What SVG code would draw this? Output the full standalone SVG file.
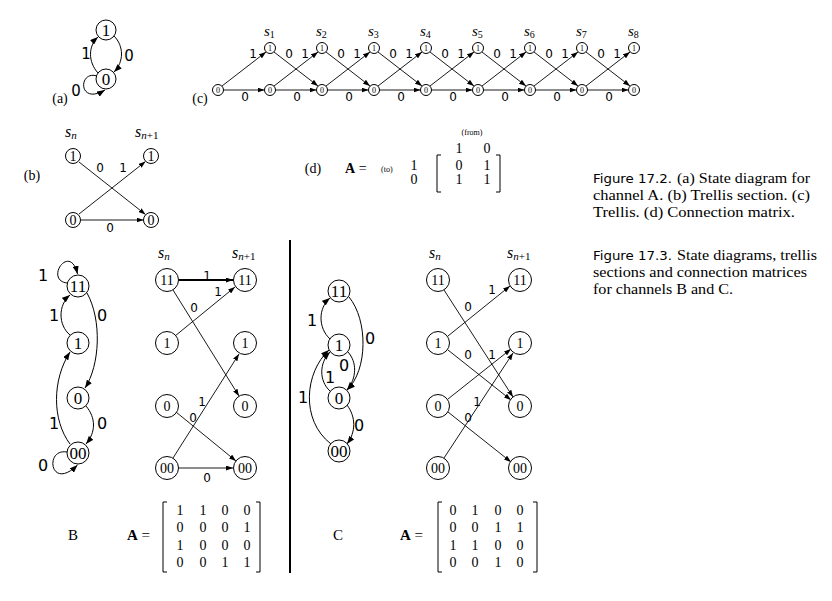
<svg xmlns="http://www.w3.org/2000/svg" width="832" height="601" viewBox="0 0 832 601">
<style>
.n{fill:#fff;stroke:#000;stroke-width:1}
.e{fill:none;stroke:#000;stroke-width:1}
.t{fill:none;stroke:#000;stroke-width:0.9}
.sr{font-family:"Liberation Serif",serif;fill:#000}
.ss{font-family:"DejaVu Sans",sans-serif;fill:#000}
.c{text-anchor:middle}
.it{font-style:italic}
</style>
<defs>
<marker id="ar" markerUnits="userSpaceOnUse" markerWidth="8" markerHeight="6" refX="8" refY="3" orient="auto"><path d="M0,0 L8,3 L0,6 z" fill="#000"/></marker>
<marker id="as" markerUnits="userSpaceOnUse" markerWidth="7" markerHeight="5" refX="7" refY="2.5" orient="auto"><path d="M0,0 L7,2.5 L0,5 z" fill="#000"/></marker>
</defs>
<rect width="832" height="601" fill="#fff"/>

<!-- (a) -->
<g id="a-connectors">
<path class="e" d="M98,73 C88,62 88,46 98,37" marker-end="url(#ar)"/>
<path class="e" d="M114,36 C124,46 124,62 114,72" marker-end="url(#ar)"/>
<path class="e" d="M97,76 C78,70 78,106 105,90" marker-end="url(#ar)"/>
<text class="ss c" x="86" y="59" font-size="15">1</text>
<text class="ss c" x="129" y="61" font-size="15">0</text>
<text class="ss c" x="76" y="96" font-size="15">0</text>
</g>
<g id="a-n1"><circle class="n" cx="106" cy="30" r="10"/><text class="sr c" x="106" y="36" font-size="17">1</text></g>
<g id="a-n0"><circle class="n" cx="106" cy="79" r="10"/><text class="sr c" x="106" y="85" font-size="17">0</text></g>
<text class="sr c" x="60" y="103" font-size="14">(a)</text>

<!-- (c) trellis -->
<text class="sr c" x="200" y="103" font-size="14">(c)</text>
<g id="c-connectors">
<line class="t" x1="223.5" y1="90" x2="264.5" y2="90" marker-end="url(#as)"/>
<line class="t" x1="275.5" y1="90" x2="316.5" y2="90" marker-end="url(#as)"/>
<line class="t" x1="327.5" y1="90" x2="368.5" y2="90" marker-end="url(#as)"/>
<line class="t" x1="379.5" y1="90" x2="420.5" y2="90" marker-end="url(#as)"/>
<line class="t" x1="431.5" y1="90" x2="472.5" y2="90" marker-end="url(#as)"/>
<line class="t" x1="483.5" y1="90" x2="524.5" y2="90" marker-end="url(#as)"/>
<line class="t" x1="535.5" y1="90" x2="576.5" y2="90" marker-end="url(#as)"/>
<line class="t" x1="587.5" y1="90" x2="628.5" y2="90" marker-end="url(#as)"/>
<line class="t" x1="222" y1="86" x2="266" y2="52" marker-end="url(#as)"/>
<line class="t" x1="274" y1="86" x2="318" y2="52" marker-end="url(#as)"/>
<line class="t" x1="326" y1="86" x2="370" y2="52" marker-end="url(#as)"/>
<line class="t" x1="378" y1="86" x2="422" y2="52" marker-end="url(#as)"/>
<line class="t" x1="430" y1="86" x2="474" y2="52" marker-end="url(#as)"/>
<line class="t" x1="482" y1="86" x2="526" y2="52" marker-end="url(#as)"/>
<line class="t" x1="534" y1="86" x2="578" y2="52" marker-end="url(#as)"/>
<line class="t" x1="586" y1="86" x2="630" y2="52" marker-end="url(#as)"/>
<line class="t" x1="274" y1="52" x2="318" y2="86" marker-end="url(#as)"/>
<line class="t" x1="326" y1="52" x2="370" y2="86" marker-end="url(#as)"/>
<line class="t" x1="378" y1="52" x2="422" y2="86" marker-end="url(#as)"/>
<line class="t" x1="430" y1="52" x2="474" y2="86" marker-end="url(#as)"/>
<line class="t" x1="482" y1="52" x2="526" y2="86" marker-end="url(#as)"/>
<line class="t" x1="534" y1="52" x2="578" y2="86" marker-end="url(#as)"/>
<line class="t" x1="586" y1="52" x2="630" y2="86" marker-end="url(#as)"/>
<g class="ss c" font-size="12">
<text x="253" y="58">1</text><text x="305" y="58">1</text><text x="357" y="58">1</text><text x="409" y="58">1</text><text x="461" y="58">1</text><text x="513" y="58">1</text><text x="565" y="58">1</text><text x="617" y="58">1</text>
<text x="289" y="58">0</text><text x="341" y="58">0</text><text x="393" y="58">0</text><text x="445" y="58">0</text><text x="497" y="58">0</text><text x="549" y="58">0</text><text x="601" y="58">0</text>
<text x="245" y="101">0</text><text x="297" y="101">0</text><text x="349" y="101">0</text><text x="401" y="101">0</text><text x="453" y="101">0</text><text x="505" y="101">0</text><text x="557" y="101">0</text><text x="609" y="101">0</text>
</g>
</g>
<g class="sr" font-size="15">
<text x="264" y="36"><tspan class="it">s</tspan><tspan font-size="10" dy="2">1</tspan></text>
<text x="316" y="36"><tspan class="it">s</tspan><tspan font-size="10" dy="2">2</tspan></text>
<text x="368" y="36"><tspan class="it">s</tspan><tspan font-size="10" dy="2">3</tspan></text>
<text x="420" y="36"><tspan class="it">s</tspan><tspan font-size="10" dy="2">4</tspan></text>
<text x="472" y="36"><tspan class="it">s</tspan><tspan font-size="10" dy="2">5</tspan></text>
<text x="524" y="36"><tspan class="it">s</tspan><tspan font-size="10" dy="2">6</tspan></text>
<text x="576" y="36"><tspan class="it">s</tspan><tspan font-size="10" dy="2">7</tspan></text>
<text x="628" y="36"><tspan class="it">s</tspan><tspan font-size="10" dy="2">8</tspan></text>
</g>
<g id="c-b0"><circle class="n" cx="218" cy="90" r="5.5"/><text class="sr c" x="218" y="93" font-size="8">0</text></g>
<g id="c-b1"><circle class="n" cx="270" cy="90" r="5.5"/><text class="sr c" x="270" y="93" font-size="8">0</text></g>
<g id="c-b2"><circle class="n" cx="322" cy="90" r="5.5"/><text class="sr c" x="322" y="93" font-size="8">0</text></g>
<g id="c-b3"><circle class="n" cx="374" cy="90" r="5.5"/><text class="sr c" x="374" y="93" font-size="8">0</text></g>
<g id="c-b4"><circle class="n" cx="426" cy="90" r="5.5"/><text class="sr c" x="426" y="93" font-size="8">0</text></g>
<g id="c-b5"><circle class="n" cx="478" cy="90" r="5.5"/><text class="sr c" x="478" y="93" font-size="8">0</text></g>
<g id="c-b6"><circle class="n" cx="530" cy="90" r="5.5"/><text class="sr c" x="530" y="93" font-size="8">0</text></g>
<g id="c-b7"><circle class="n" cx="582" cy="90" r="5.5"/><text class="sr c" x="582" y="93" font-size="8">0</text></g>
<g id="c-b8"><circle class="n" cx="634" cy="90" r="5.5"/><text class="sr c" x="634" y="93" font-size="8">0</text></g>
<g id="c-t1"><circle class="n" cx="270" cy="48" r="5.5"/><text class="sr c" x="270" y="51" font-size="8">1</text></g>
<g id="c-t2"><circle class="n" cx="322" cy="48" r="5.5"/><text class="sr c" x="322" y="51" font-size="8">1</text></g>
<g id="c-t3"><circle class="n" cx="374" cy="48" r="5.5"/><text class="sr c" x="374" y="51" font-size="8">1</text></g>
<g id="c-t4"><circle class="n" cx="426" cy="48" r="5.5"/><text class="sr c" x="426" y="51" font-size="8">1</text></g>
<g id="c-t5"><circle class="n" cx="478" cy="48" r="5.5"/><text class="sr c" x="478" y="51" font-size="8">1</text></g>
<g id="c-t6"><circle class="n" cx="530" cy="48" r="5.5"/><text class="sr c" x="530" y="51" font-size="8">1</text></g>
<g id="c-t7"><circle class="n" cx="582" cy="48" r="5.5"/><text class="sr c" x="582" y="51" font-size="8">1</text></g>
<g id="c-t8"><circle class="n" cx="634" cy="48" r="5.5"/><text class="sr c" x="634" y="51" font-size="8">1</text></g>

<!-- (b) -->
<text class="sr c" x="32" y="180" font-size="14">(b)</text>
<text class="sr" x="65" y="137" font-size="16"><tspan class="it">s</tspan><tspan class="it" font-size="11" dy="2">n</tspan></text>
<text class="sr" x="135" y="137" font-size="16"><tspan class="it">s</tspan><tspan font-size="11" dy="2"><tspan class="it">n</tspan>+1</tspan></text>
<g id="b-connectors">
<line class="t" x1="79" y1="162" x2="145.5" y2="214.5" marker-end="url(#as)"/>
<line class="t" x1="79" y1="214" x2="145.5" y2="161.5" marker-end="url(#as)"/>
<line class="t" x1="81" y1="220" x2="143.5" y2="220" marker-end="url(#as)"/>
<text class="ss c" x="100" y="172" font-size="12">0</text>
<text class="ss c" x="123" y="172" font-size="12">1</text>
<text class="ss c" x="110" y="232" font-size="12">0</text>
</g>
<g id="b-l1"><circle class="n" cx="73" cy="156" r="7.5"/><text class="sr c" x="73" y="161" font-size="14">1</text></g>
<g id="b-r1"><circle class="n" cx="151" cy="156" r="7.5"/><text class="sr c" x="151" y="161" font-size="14">1</text></g>
<g id="b-l0"><circle class="n" cx="73" cy="220" r="7.5"/><text class="sr c" x="73" y="225" font-size="14">0</text></g>
<g id="b-r0"><circle class="n" cx="151" cy="220" r="7.5"/><text class="sr c" x="151" y="225" font-size="14">0</text></g>

<!-- (d) -->
<g id="d-matrix">
<text class="sr c" x="313" y="173" font-size="14">(d)</text>
<text class="sr" x="345" y="173" font-size="14"><tspan font-weight="bold">A</tspan> =</text>
<text class="sr" x="381" y="172" font-size="8">(to)</text>
<text class="sr c" x="472" y="135" font-size="8">(from)</text>
<g class="sr c" font-size="14">
<text x="414" y="170">1</text><text x="414" y="184">0</text>
<text x="459" y="153">1</text><text x="487" y="153">0</text>
<text x="459" y="170">0</text><text x="487" y="170">1</text>
<text x="459" y="184">1</text><text x="487" y="184">1</text>
</g>
<path class="e" d="M441,155 H437 V192 H441"/>
<path class="e" d="M496,155 H500 V192 H496"/>
</g>

<!-- captions -->
<g id="captions">
<text class="ss" x="593" y="183" font-size="12" textLength="79" lengthAdjust="spacingAndGlyphs">Figure 17.2.</text>
<text class="sr" x="677" y="183" font-size="14" textLength="133" lengthAdjust="spacingAndGlyphs">(a) State diagram for</text>
<text class="sr" x="593" y="200" font-size="14" textLength="217" lengthAdjust="spacingAndGlyphs">channel A. (b) Trellis section. (c)</text>
<text class="sr" x="593" y="217" font-size="14" textLength="202" lengthAdjust="spacingAndGlyphs">Trellis. (d) Connection matrix.</text>
<text class="ss" x="593" y="260" font-size="12" textLength="79" lengthAdjust="spacingAndGlyphs">Figure 17.3.</text>
<text class="sr" x="677" y="260" font-size="14" textLength="140" lengthAdjust="spacingAndGlyphs">State diagrams, trellis</text>
<text class="sr" x="593" y="277" font-size="14" textLength="214" lengthAdjust="spacingAndGlyphs">sections and connection matrices</text>
<text class="sr" x="593" y="294" font-size="14" textLength="140" lengthAdjust="spacingAndGlyphs">for channels B and C.</text>
</g>

<!-- divider -->
<line x1="290" y1="240" x2="290" y2="573" stroke="#000" stroke-width="2"/>

<!-- B state diagram -->
<g id="B-state-connectors">
<path class="e" d="M67,283 C44,280 70,242 77.5,274" marker-end="url(#ar)"/>
<path class="e" d="M70,335 C58,325 58,305 70,295" marker-end="url(#ar)"/>
<path class="e" d="M87,293 C102,320 100,365 85,388" marker-end="url(#ar)"/>
<path class="e" d="M86,406 C96,418 96,432 86,444" marker-end="url(#ar)"/>
<path class="e" d="M70,444 C52,420 52,380 70,352" marker-end="url(#ar)"/>
<path class="e" d="M67,452 C44,448 50,492 77.5,465" marker-end="url(#ar)"/>
<g class="ss c" font-size="16">
<text x="43" y="281">1</text>
<text x="54" y="321">1</text>
<text x="102" y="321">0</text>
<text x="102" y="429">0</text>
<text x="54" y="429">1</text>
<text x="43" y="471">0</text>
</g>
</g>
<g id="B-s11"><circle class="n" cx="78" cy="286" r="11"/><text class="sr c" x="78" y="292" font-size="17">11</text></g>
<g id="B-s1"><circle class="n" cx="78" cy="343" r="11"/><text class="sr c" x="78" y="349" font-size="17">1</text></g>
<g id="B-s0"><circle class="n" cx="78" cy="398" r="11"/><text class="sr c" x="78" y="404" font-size="17">0</text></g>
<g id="B-s00"><circle class="n" cx="78" cy="453" r="11"/><text class="sr c" x="78" y="459" font-size="17">00</text></g>

<!-- B trellis -->
<text class="sr" x="158" y="258" font-size="16"><tspan class="it">s</tspan><tspan class="it" font-size="11" dy="2">n</tspan></text>
<text class="sr" x="232" y="258" font-size="16"><tspan class="it">s</tspan><tspan font-size="11" dy="2"><tspan class="it">n</tspan>+1</tspan></text>
<g id="B-trellis-connectors">
<line x1="179" y1="280" x2="233" y2="280" stroke="#000" stroke-width="2" marker-end="url(#as)"/>
<line class="t" x1="175" y1="336" x2="235" y2="287" marker-end="url(#as)"/>
<line class="t" x1="173" y1="290" x2="239" y2="396" marker-end="url(#as)"/>
<line class="t" x1="173" y1="458" x2="239" y2="354" marker-end="url(#as)"/>
<line class="t" x1="176" y1="412" x2="236" y2="461" marker-end="url(#as)"/>
<line class="t" x1="179" y1="468" x2="233" y2="468" marker-end="url(#as)"/>
<g class="ss c" font-size="12">
<text x="207" y="280">1</text>
<text x="218" y="296">1</text>
<text x="194" y="312">0</text>
<text x="202" y="406">1</text>
<text x="193" y="422">0</text>
<text x="207" y="482">0</text>
</g>
</g>
<g id="B-l11"><circle class="n" cx="167" cy="280" r="11.5"/><text class="sr c" x="167" y="285" font-size="14">11</text></g>
<g id="B-l1"><circle class="n" cx="167" cy="343" r="11.5"/><text class="sr c" x="167" y="348" font-size="14">1</text></g>
<g id="B-l0"><circle class="n" cx="167" cy="406" r="11.5"/><text class="sr c" x="167" y="411" font-size="14">0</text></g>
<g id="B-l00"><circle class="n" cx="167" cy="468" r="11.5"/><text class="sr c" x="167" y="473" font-size="14">00</text></g>
<g id="B-r11"><circle class="n" cx="245" cy="280" r="11.5"/><text class="sr c" x="245" y="285" font-size="14">11</text></g>
<g id="B-r1"><circle class="n" cx="245" cy="343" r="11.5"/><text class="sr c" x="245" y="348" font-size="14">1</text></g>
<g id="B-r0"><circle class="n" cx="245" cy="406" r="11.5"/><text class="sr c" x="245" y="411" font-size="14">0</text></g>
<g id="B-r00"><circle class="n" cx="245" cy="468" r="11.5"/><text class="sr c" x="245" y="473" font-size="14">00</text></g>

<!-- C state diagram -->
<g id="C-state-connectors">
<path class="e" d="M330,339 C318,328 318,308 330,298" marker-end="url(#ar)"/>
<path class="e" d="M349,297 C368,320 368,370 347,390" marker-end="url(#ar)"/>
<path class="e" d="M348,352 C357,362 357,378 347,390" marker-end="url(#ar)"/>
<path class="e" d="M330,391 C319,381 319,363 330,352" marker-end="url(#ar)"/>
<path class="e" d="M331,444 C300,420 305,372 329,350" marker-end="url(#ar)"/>
<path class="e" d="M347,405 C356,417 356,432 347,444" marker-end="url(#ar)"/>
<g class="ss c" font-size="16">
<text x="312" y="326">1</text>
<text x="370" y="344">0</text>
<text x="344" y="371">0</text>
<text x="330" y="383">1</text>
<text x="303" y="403">1</text>
<text x="359" y="431">0</text>
</g>
</g>
<g id="C-s11"><circle class="n" cx="339" cy="291" r="11"/><text class="sr c" x="339" y="297" font-size="17">11</text></g>
<g id="C-s1"><circle class="n" cx="339" cy="345" r="11"/><text class="sr c" x="339" y="351" font-size="17">1</text></g>
<g id="C-s0"><circle class="n" cx="339" cy="398" r="11"/><text class="sr c" x="339" y="404" font-size="17">0</text></g>
<g id="C-s00"><circle class="n" cx="339" cy="451" r="11"/><text class="sr c" x="339" y="457" font-size="17">00</text></g>

<!-- C trellis -->
<text class="sr" x="429" y="258" font-size="16"><tspan class="it">s</tspan><tspan class="it" font-size="11" dy="2">n</tspan></text>
<text class="sr" x="507" y="258" font-size="16"><tspan class="it">s</tspan><tspan font-size="11" dy="2"><tspan class="it">n</tspan>+1</tspan></text>
<g id="C-trellis-connectors">
<line class="t" x1="444" y1="290" x2="513" y2="397" marker-end="url(#as)"/>
<line class="t" x1="448" y1="336" x2="510" y2="286" marker-end="url(#as)"/>
<line class="t" x1="448" y1="350" x2="511" y2="400" marker-end="url(#as)"/>
<line class="t" x1="448" y1="399" x2="511" y2="349" marker-end="url(#as)"/>
<line class="t" x1="444" y1="458" x2="513" y2="353" marker-end="url(#as)"/>
<line class="t" x1="448" y1="412" x2="511" y2="462" marker-end="url(#as)"/>
<g class="ss c" font-size="12">
<text x="468" y="311">0</text>
<text x="492" y="294">1</text>
<text x="468" y="359">0</text>
<text x="492" y="359">1</text>
<text x="477" y="406">1</text>
<text x="468" y="422">0</text>
</g>
</g>
<g id="C-l11"><circle class="n" cx="438" cy="280" r="11.5"/><text class="sr c" x="438" y="285" font-size="14">11</text></g>
<g id="C-l1"><circle class="n" cx="438" cy="343" r="11.5"/><text class="sr c" x="438" y="348" font-size="14">1</text></g>
<g id="C-l0"><circle class="n" cx="438" cy="406" r="11.5"/><text class="sr c" x="438" y="411" font-size="14">0</text></g>
<g id="C-l00"><circle class="n" cx="438" cy="468" r="11.5"/><text class="sr c" x="438" y="473" font-size="14">00</text></g>
<g id="C-r11"><circle class="n" cx="520" cy="280" r="11.5"/><text class="sr c" x="520" y="285" font-size="14">11</text></g>
<g id="C-r1"><circle class="n" cx="520" cy="343" r="11.5"/><text class="sr c" x="520" y="348" font-size="14">1</text></g>
<g id="C-r0"><circle class="n" cx="520" cy="406" r="11.5"/><text class="sr c" x="520" y="411" font-size="14">0</text></g>
<g id="C-r00"><circle class="n" cx="520" cy="468" r="11.5"/><text class="sr c" x="520" y="473" font-size="14">00</text></g>

<!-- B matrix -->
<g id="B-matrix">
<text class="sr c" x="73" y="540" font-size="15">B</text>
<text class="sr" x="127" y="540" font-size="15"><tspan font-weight="bold">A</tspan> =</text>
<path class="e" d="M167,502 H163 V572 H167"/>
<path class="e" d="M256,502 H260 V572 H256"/>
<g class="sr c" font-size="14">
<text x="180" y="515">1</text><text x="203" y="515">1</text><text x="225" y="515">0</text><text x="247" y="515">0</text>
<text x="180" y="532">0</text><text x="203" y="532">0</text><text x="225" y="532">0</text><text x="247" y="532">1</text>
<text x="180" y="550">1</text><text x="203" y="550">0</text><text x="225" y="550">0</text><text x="247" y="550">0</text>
<text x="180" y="567">0</text><text x="203" y="567">0</text><text x="225" y="567">1</text><text x="247" y="567">1</text>
</g>
</g>

<!-- C matrix -->
<g id="C-matrix">
<text class="sr c" x="338" y="540" font-size="15">C</text>
<text class="sr" x="400" y="540" font-size="15"><tspan font-weight="bold">A</tspan> =</text>
<path class="e" d="M442,502 H438 V572 H442"/>
<path class="e" d="M533,502 H537 V572 H533"/>
<g class="sr c" font-size="14">
<text x="453" y="515">0</text><text x="475" y="515">1</text><text x="498" y="515">0</text><text x="520" y="515">0</text>
<text x="453" y="532">0</text><text x="475" y="532">0</text><text x="498" y="532">1</text><text x="520" y="532">1</text>
<text x="453" y="550">1</text><text x="475" y="550">1</text><text x="498" y="550">0</text><text x="520" y="550">0</text>
<text x="453" y="567">0</text><text x="475" y="567">0</text><text x="498" y="567">1</text><text x="520" y="567">0</text>
</g>
</g>
</svg>
